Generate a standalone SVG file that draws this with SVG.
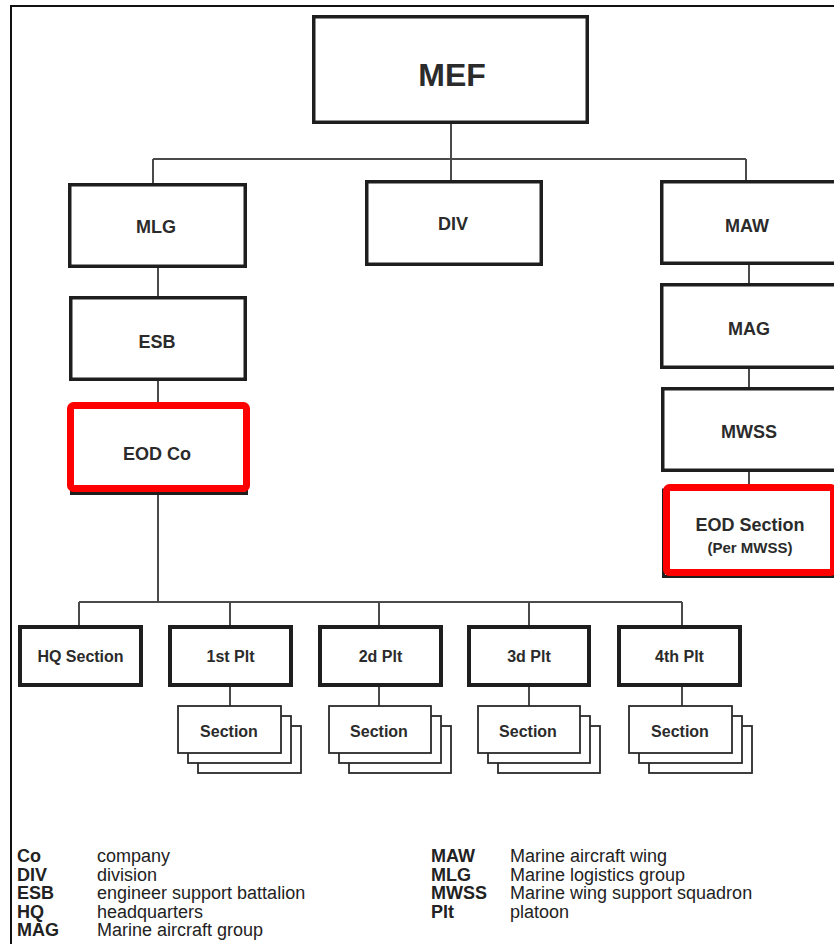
<svg xmlns="http://www.w3.org/2000/svg" width="834" height="944" viewBox="0 0 834 944">
  <style>
    .box { fill: #ffffff; stroke: #1e1e1e; stroke-width: 3.5; }
    .plt { fill: #ffffff; stroke: #1e1e1e; stroke-width: 4; }
    .sec { fill: #ffffff; stroke: #2a2a2a; stroke-width: 1.8; }
    .hl { fill: #ffffff; stroke: #ff0000; stroke-width: 7; }
    .under { fill: none; stroke: #1e1e1e; stroke-width: 3; }
    .wire { fill: none; stroke: #4a4a4a; stroke-width: 2; }
    .lbl { font-family: "Liberation Sans", Arial, sans-serif; font-weight: bold; fill: #2b2b2b; text-anchor: middle; }
    .big { font-size: 32px; }
    .mid { font-size: 18px; }
    .sm { font-size: 16px; }
    .leg { font-family: "Liberation Sans", Arial, sans-serif; font-size: 18px; fill: #222222; }
    .legb { font-weight: bold; }
  </style>

  <rect width="834" height="944" fill="#ffffff"/>
  <!-- outer frame -->
  <rect x="11" y="6" width="840" height="960" fill="none" stroke="#111111" stroke-width="2"/>

  <g id="connectors">
    <path class="wire" d="M451 124V180 M153 159H746 M153 159V183 M746 159V180"/>
    <path class="wire" d="M158 268V296 M158 381V404 M158 492V602"/>
    <path class="wire" d="M749 265V283 M749 369V387 M749 472V487"/>
    <path class="wire" d="M79 602H682 M79 602V625 M230 602V625 M379 602V625 M529 602V625 M682 602V625"/>
    <path class="wire" d="M230 687V706 M379 687V706 M529 687V706 M682 687V706"/>
  </g>

  <g id="mef">
    <rect class="box" x="313.75" y="16.75" width="273.5" height="105.5"/>
    <text class="lbl big" x="452" y="86">MEF</text>
  </g>

  <g id="mlg">
    <rect class="box" x="69.75" y="184.75" width="175.5" height="81.5"/>
    <text class="lbl mid" x="156" y="233">MLG</text>
  </g>

  <g id="div">
    <rect class="box" x="366.75" y="181.75" width="174.5" height="82.5"/>
    <text class="lbl mid" x="453" y="230">DIV</text>
  </g>

  <g id="maw">
    <rect class="box" x="661.75" y="181.75" width="200" height="81.5"/>
    <text class="lbl mid" x="747" y="232">MAW</text>
  </g>

  <g id="esb">
    <rect class="box" x="70.75" y="297.75" width="174.5" height="81.5"/>
    <text class="lbl mid" x="157" y="348">ESB</text>
  </g>

  <g id="eod-co">
    <rect class="under" x="71.5" y="410.5" width="175" height="83"/>
    <rect class="hl" x="70.5" y="405.5" width="176" height="83" rx="3"/>
    <text class="lbl mid" x="157" y="460">EOD Co</text>
  </g>

  <g id="mag">
    <rect class="box" x="661.75" y="284.75" width="200" height="82.5"/>
    <text class="lbl mid" x="749" y="335">MAG</text>
  </g>

  <g id="mwss">
    <rect class="box" x="662.75" y="388.75" width="200" height="81.5"/>
    <text class="lbl mid" x="749" y="438">MWSS</text>
  </g>

  <g id="eod-section">
    <rect class="under" x="663.5" y="490" width="200" height="86.5"/>
    <rect class="hl" x="666.5" y="487.5" width="167" height="85" rx="3"/>
    <text class="lbl mid" x="750" y="531">EOD Section</text>
    <text class="lbl" x="750" y="553" font-size="15">(Per MWSS)</text>
  </g>

  <g id="hq-section">
    <rect class="plt" x="20" y="627" width="121" height="58"/>
    <text class="lbl sm" x="80.5" y="662">HQ Section</text>
  </g>

  <g id="plt-1">
    <rect class="plt" x="170" y="627" width="121" height="58"/>
    <text class="lbl sm" x="230.5" y="662">1st Plt</text>
  </g>

  <g id="plt-2">
    <rect class="plt" x="320" y="627" width="121" height="58"/>
    <text class="lbl sm" x="380.5" y="662">2d Plt</text>
  </g>

  <g id="plt-3">
    <rect class="plt" x="469" y="627" width="120" height="58"/>
    <text class="lbl sm" x="529" y="662">3d Plt</text>
  </g>

  <g id="plt-4">
    <rect class="plt" x="619" y="627" width="121" height="58"/>
    <text class="lbl sm" x="679.5" y="662">4th Plt</text>
  </g>

  <g id="sections-1">
    <rect class="sec" x="198" y="726" width="103" height="47"/>
    <rect class="sec" x="188" y="716" width="103" height="47"/>
    <rect class="sec" x="178" y="706" width="103" height="47"/>
    <text class="lbl sm" x="229" y="737">Section</text>
  </g>

  <g id="sections-2">
    <rect class="sec" x="349" y="726" width="102" height="47"/>
    <rect class="sec" x="339" y="716" width="102" height="47"/>
    <rect class="sec" x="329" y="706" width="102" height="47"/>
    <text class="lbl sm" x="379" y="737">Section</text>
  </g>

  <g id="sections-3">
    <rect class="sec" x="498" y="726" width="102" height="47"/>
    <rect class="sec" x="488" y="716" width="102" height="47"/>
    <rect class="sec" x="478" y="706" width="102" height="47"/>
    <text class="lbl sm" x="528" y="737">Section</text>
  </g>

  <g id="sections-4">
    <rect class="sec" x="649" y="726" width="103" height="47"/>
    <rect class="sec" x="639" y="716" width="103" height="47"/>
    <rect class="sec" x="629" y="706" width="103" height="47"/>
    <text class="lbl sm" x="680" y="737">Section</text>
  </g>

  <!-- abbreviation key; descriptions widened to the key's wide set -->
  <g id="legend" class="leg">
    <text class="legb" x="17" y="862">Co</text>
    <text class="legb" x="17" y="880.5">DIV</text>
    <text class="legb" x="17" y="899">ESB</text>
    <text class="legb" x="17" y="917.5">HQ</text>
    <text class="legb" x="17" y="936">MAG</text>
    <text x="97" y="862">company</text>
    <text x="97" y="880.5">division</text>
    <text x="97" y="899">engineer support battalion</text>
    <text x="97" y="917.5">headquarters</text>
    <text x="97" y="936">Marine aircraft group</text>
    <text class="legb" x="431" y="862">MAW</text>
    <text class="legb" x="431" y="880.5">MLG</text>
    <text class="legb" x="431" y="899">MWSS</text>
    <text class="legb" x="431" y="917.5">Plt</text>
    <text x="510" y="862">Marine aircraft wing</text>
    <text x="510" y="880.5">Marine logistics group</text>
    <text x="510" y="899">Marine wing support squadron</text>
    <text x="510" y="917.5">platoon</text>
  </g>
</svg>
